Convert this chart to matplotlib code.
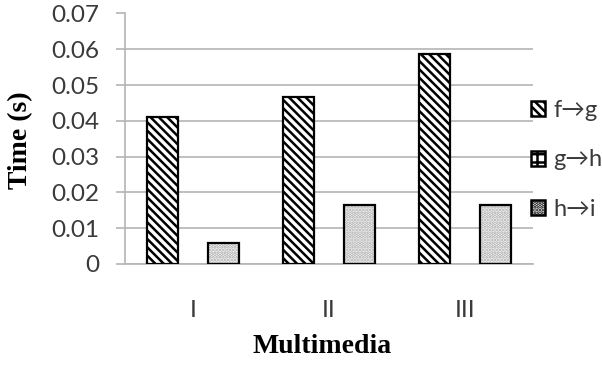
import numpy as np
import matplotlib.pyplot as plt
from matplotlib.patches import Patch

plt.rcParams['font.family'] = ['Lato', 'DejaVu Sans']
plt.rcParams['hatch.linewidth'] = 1.8

categories = ['I', 'II', 'III']
series = ['f\u2192g', 'g\u2192h', 'h\u2192i']
f_g = [0.0412, 0.0466, 0.0587]
g_h = [0.0, 0.0, 0.0]
h_i = [0.0058, 0.0165, 0.0165]
y_ticks = [0, 0.01, 0.02, 0.03, 0.04, 0.05, 0.06, 0.07]
y_tick_labels = ['0', '0.01', '0.02', '0.03', '0.04', '0.05', '0.06', '0.07']

grid_col = '#b4b4b4'
text_col = '#3a3a3a'

fig = plt.figure(figsize=(6.02, 3.65), dpi=100)
ax = fig.add_axes([125 / 602, 1 - 264 / 365, 408 / 602, 250.5 / 365])

x = np.arange(len(categories))
w = 0.228
off = 0.222

# f->g: black diagonal stripes
ax.bar(x - off, f_g, w, color='white', edgecolor='black', hatch='\\\\\\\\', linewidth=0, zorder=3)
ax.bar(x - off, f_g, w, fill=False, edgecolor='black', linewidth=1.6, zorder=4)
# g->h: zero height, nothing visible
ax.bar(x, g_h, w, color='white', linewidth=0, zorder=3)
# h->i: light grey stipple
ax.bar(x + off, h_i, w, color='white', edgecolor='#a8a8a8', hatch='.....', linewidth=0, zorder=3)
ax.bar(x + off, h_i, w, fill=False, edgecolor='black', linewidth=1.6, zorder=4)

ax.set_xlim(-0.5, 2.5)
ax.set_ylim(0, 0.07)
ax.set_yticks(y_ticks)
ax.set_yticklabels(y_tick_labels)
ax.set_xticks(x)
ax.set_xticklabels(categories)
ax.grid(axis='y', color=grid_col, linewidth=1.2, zorder=0)
ax.set_axisbelow(True)

for s in ['top', 'right']:
    ax.spines[s].set_visible(False)
for s in ['left', 'bottom']:
    ax.spines[s].set_color(grid_col)
    ax.spines[s].set_linewidth(1.2)

ax.tick_params(axis='y', length=6.5, width=1.2, color=grid_col, pad=12,
               labelsize=17.5, labelcolor=text_col)
ax.tick_params(axis='x', length=0, pad=26, labelsize=17.5, labelcolor=text_col)

ax.set_xlabel('Multimedia', fontsize=20, fontweight='bold', family='Liberation Serif')
ax.set_ylabel('Time (s)', fontsize=20, fontweight='bold', family='Liberation Serif')
ax.xaxis.set_label_coords(0.484, -0.28)
ax.yaxis.set_label_coords(-0.225, 0.495)

handles = [
    Patch(facecolor='white', edgecolor='black', hatch='\\\\\\\\', linewidth=1.8),
    Patch(facecolor='white', edgecolor='black', hatch='++', linewidth=1.8),
    Patch(facecolor='white', edgecolor='black', hatch='.....', linewidth=1.8),
]
leg = fig.legend(handles, series, loc='center left', bbox_to_anchor=(531 / 602, 1 - 160 / 365),
                 frameon=False, fontsize=17, handlelength=0.6, handleheight=0.6,
                 handletextpad=0.35, labelspacing=1.2, borderpad=0, borderaxespad=0)
for t in leg.get_texts():
    t.set_color(text_col)

fig.savefig('out.png', dpi=100)
